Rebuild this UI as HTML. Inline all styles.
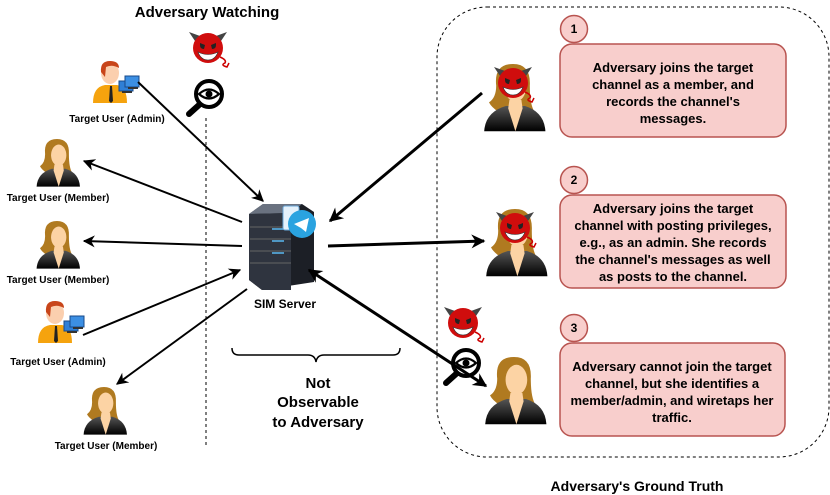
<!DOCTYPE html>
<html><head><meta charset="utf-8"><style>
html,body{margin:0;padding:0;background:#fff;}
svg{display:block;font-family:"Liberation Sans",Arial,sans-serif;font-weight:bold;}
</style></head><body>
<svg width="830" height="495" viewBox="0 0 830 495" xmlns="http://www.w3.org/2000/svg">
<defs>
<marker id="ah" viewBox="0 0 10 10" refX="9" refY="5" markerWidth="13" markerHeight="12" orient="auto-start-reverse" markerUnits="userSpaceOnUse">
<path d="M0,0 L10,5 L0,10 L3,5 Z" fill="#000"/></marker>
<marker id="ah2" viewBox="0 0 10 10" refX="9" refY="5" markerWidth="16" markerHeight="14" orient="auto-start-reverse" markerUnits="userSpaceOnUse">
<path d="M0,0 L10,5 L0,10 L3,5 Z" fill="#000"/></marker>
<linearGradient id="bodyg" x1="0" y1="0" x2="0" y2="1"><stop offset="0" stop-color="#555"/><stop offset="1" stop-color="#000"/></linearGradient>
<g id="fem">
<path d="M-14,-2 Q-16,-20 0,-20 Q15,-20 14,-2 Q14,14 18,20 L-12,20 Q-18,16 -20,12 Q-14,8 -14,-2 Z" fill="#b07a20"/>
<ellipse cx="2" cy="-1" rx="9" ry="12.5" fill="#fcd3a4"/>
<path d="M-24,36 Q-23,20 -6,15 L10,15 Q26,20 27,36 Z" fill="url(#bodyg)"/>
<path d="M-3,10 L7,10 L8,17 L2,36 L-4,17 Z" fill="#fcd3a4"/>
</g>
<g id="adm">
<path d="M-17,30 Q-17,14 -5,12 L7,12 Q17,14 17,30 Z" fill="#f5a30e"/>
<path d="M0,13 L2,13 L3,28 L1,30 L-1,28 Z" fill="#222"/>
<ellipse cx="0" cy="0" rx="9" ry="11" fill="#fbcfae"/>
<path d="M-9,-1 Q-10,-12 0,-12 Q9,-12 9,-5 Q2,-9 -4,-6 L-5,4 Z" fill="#c8451a"/>
<rect x="9" y="8" width="14" height="10" fill="#2f7fd6" stroke="#174a8a" stroke-width="1"/>
<rect x="15" y="3" width="14" height="11" fill="#3c8fe3" stroke="#174a8a" stroke-width="1"/>
<rect x="12" y="18" width="10" height="2" fill="#333"/>
<rect x="18" y="14" width="10" height="2" fill="#333"/>
</g>
<g id="devil">
<path d="M-13,-7 L-19,-16 L-8,-12 Z" fill="#444"/>
<path d="M13,-7 L19,-16 L8,-12 Z" fill="#444"/>
<path d="M12,9 Q19,12 17,15 Q12,17 19,19 L21,15" fill="none" stroke="#c00" stroke-width="1.5"/>
<circle cx="0" cy="0" r="15" fill="#d00d0d"/>
<path d="M-8,-5 L-3,-3 L-4,1 Q-8,1 -8,-3 Z M8,-5 L3,-3 L4,1 Q8,1 8,-3Z" fill="#222"/>
<path d="M-10,4 Q0,9 10,4 Q7,12 0,12 Q-7,12 -10,4 Z" fill="#fff" stroke="#333" stroke-width="0.6"/>
</g>
<g id="eye">
<circle cx="3" cy="-3" r="13" fill="none" stroke="#000" stroke-width="4"/>
<path d="M-7,-3 Q3,-12 13,-3 Q3,6 -7,-3 Z" fill="none" stroke="#000" stroke-width="2.2"/>
<circle cx="3" cy="-3" r="3.5" fill="#000"/>
<path d="M-7,8 L-17,17" stroke="#000" stroke-width="6" stroke-linecap="round"/>
</g>
</defs>

<text x="207" y="17" font-size="15" text-anchor="middle">Adversary Watching</text>
<use href="#devil" x="208" y="48"/>
<use href="#eye" x="206" y="97"/>
<line x1="206" y1="118" x2="206" y2="448" stroke="#000" stroke-width="1" stroke-dasharray="3,3"/>

<!-- users -->
<use href="#adm" x="110" y="73"/>
<text x="117" y="122" font-size="10" text-anchor="middle">Target User (Admin)</text>
<g transform="translate(57,156) scale(0.85)"><use href="#fem"/></g>
<text x="58" y="201" font-size="10" text-anchor="middle">Target User (Member)</text>
<g transform="translate(57,238) scale(0.85)"><use href="#fem"/></g>
<text x="58" y="283" font-size="10" text-anchor="middle">Target User (Member)</text>
<use href="#adm" x="55" y="313"/>
<text x="58" y="365" font-size="10" text-anchor="middle">Target User (Admin)</text>
<g transform="translate(104,404) scale(0.85)"><use href="#fem"/></g>
<text x="106" y="449" font-size="10" text-anchor="middle">Target User (Member)</text>

<!-- server -->
<path d="M249,214 L263,204 L302,204 L314,212 L314,282 L262,290 L249,280 Z" fill="#1c1f26"/>
<path d="M249,214 L263,204 L302,204 L291,213 Z" fill="#6a7280"/>
<path d="M249,214 L291,213 L291,290 L262,290 L249,280 Z" fill="#2f343f"/>
<g stroke="#5ab8f0" stroke-width="1.5"><line x1="272" y1="229" x2="284" y2="229"/><line x1="272" y1="241" x2="284" y2="241"/><line x1="272" y1="253" x2="284" y2="253"/></g>
<g stroke="#666" stroke-width="1"><line x1="250" y1="227" x2="291" y2="227"/><line x1="250" y1="239" x2="291" y2="239"/><line x1="250" y1="251" x2="291" y2="251"/><line x1="250" y1="263" x2="291" y2="263"/></g>
<rect x="283" y="206" width="16" height="24" rx="2" fill="#e4f1fb" stroke="#6aa7d8"/>
<circle cx="302" cy="224" r="14" fill="#2aa3e0"/>
<path d="M294,224 L309,218 L306,232 L301,228 Z" fill="#fff"/>
<text x="285" y="308" font-size="12" text-anchor="middle">SIM Server</text>

<!-- brace & text -->
<path d="M232,348 Q232,355 239,355 L308,355 Q315,355 316,362 Q317,355 324,355 L393,355 Q400,355 400,348" fill="none" stroke="#000" stroke-width="1.5"/>
<text font-size="15" text-anchor="middle"><tspan x="318" y="388">Not</tspan><tspan x="318" y="407">Observable</tspan><tspan x="318" y="427">to Adversary</tspan></text>

<!-- arrows left -->
<g stroke="#000" stroke-width="2" fill="none">
<line x1="138" y1="82" x2="263" y2="201" marker-end="url(#ah)"/>
<line x1="242" y1="222" x2="84" y2="161" marker-end="url(#ah)"/>
<line x1="242" y1="246" x2="84" y2="241" marker-end="url(#ah)"/>
<line x1="83" y1="335" x2="240" y2="270" marker-end="url(#ah)"/>
<line x1="247" y1="289" x2="117" y2="384" marker-end="url(#ah)"/>
</g>
<g stroke="#000" stroke-width="3" fill="none">
<line x1="482" y1="93" x2="330" y2="221" marker-end="url(#ah2)"/>
<line x1="328" y1="246" x2="484" y2="241" marker-end="url(#ah2)"/>
<line x1="309" y1="270" x2="486" y2="386" marker-end="url(#ah2)" marker-start="url(#ah2)"/>
</g>

<!-- right container -->
<rect x="437" y="7" width="392" height="450" rx="50" fill="none" stroke="#000" stroke-width="1" stroke-dasharray="3,3"/>

<g transform="translate(513,88) scale(1.2)"><use href="#fem"/></g>
<use href="#devil" x="513" y="83"/>
<g transform="translate(515,233) scale(1.2)"><use href="#fem"/></g>
<use href="#devil" x="515" y="228"/>
<g transform="translate(514,381) scale(1.2)"><use href="#fem"/></g>
<use href="#devil" x="463" y="323"/>
<use href="#eye" x="463" y="366"/>

<g fill="#f8cecc" stroke="#b85450" stroke-width="1.5">
<rect x="560" y="44" width="226" height="93" rx="12"/>
<rect x="560" y="195" width="226" height="93" rx="12"/>
<rect x="560" y="343" width="225" height="93" rx="12"/>
<circle cx="574" cy="29" r="13.5"/>
<circle cx="574" cy="180" r="13.5"/>
<circle cx="574" cy="328" r="13.5"/>
</g>
<g font-size="12" text-anchor="middle">
<text x="574" y="33">1</text><text x="574" y="184">2</text><text x="574" y="332">3</text>
</g>
<g font-size="13" text-anchor="middle">
<text><tspan x="673" y="72">Adversary joins the target</tspan><tspan x="673" y="89">channel as a member, and</tspan><tspan x="673" y="106">records the channel's</tspan><tspan x="673" y="123">messages.</tspan></text>
<text><tspan x="673" y="213">Adversary joins the target</tspan><tspan x="673" y="230">channel with posting privileges,</tspan><tspan x="673" y="247">e.g., as an admin. She records</tspan><tspan x="673" y="264">the channel's messages as well</tspan><tspan x="673" y="281">as posts to the channel.</tspan></text>
<text><tspan x="672" y="371">Adversary cannot join the target</tspan><tspan x="672" y="388">channel, but she identifies a</tspan><tspan x="672" y="405">member/admin, and wiretaps her</tspan><tspan x="672" y="422">traffic.</tspan></text>
<text x="637" y="491" font-size="14">Adversary's Ground Truth</text>
</g>
</svg>
</body></html>
